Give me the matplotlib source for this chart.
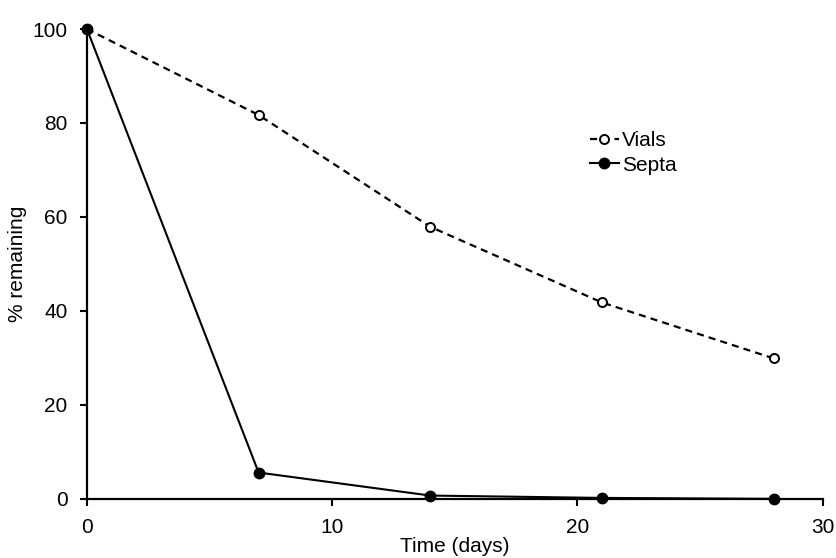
import numpy as np
import matplotlib
matplotlib.use("Agg")
import matplotlib.pyplot as plt

plt.rcParams['font.family'] = ['Liberation Sans', 'DejaVu Sans']

days = [0, 7, 14, 21, 28]
vials = [100, 81.7, 57.9, 41.8, 29.9]
septa = [100, 5.6, 0.7, 0.2, 0.0]

fig = plt.figure(figsize=(8.36, 5.58), dpi=100)
ax = fig.add_axes([0.104, 0.106, 0.88, 0.842])

ax.plot(days, vials, color='black', linewidth=1.6, linestyle=(0, (3.2, 2.3)),
        marker='o', markersize=6.5, markerfacecolor='white', markeredgecolor='black',
        markeredgewidth=1.4, label='Vials', clip_on=False, zorder=3)
ax.plot(days, septa, color='black', linewidth=1.5,
        marker='o', markersize=7.5, markerfacecolor='black', markeredgecolor='black',
        label='Septa', clip_on=False, zorder=4)

ax.set_xlim(0, 30)
ax.set_ylim(0, 100)
ax.set_xticks([0, 10, 20, 30])
ax.set_yticks([0, 20, 40, 60, 80, 100])

for side in ['top', 'right']:
    ax.spines[side].set_visible(False)
for side in ['left', 'bottom']:
    ax.spines[side].set_linewidth(1.6)
ax.tick_params(direction='out', length=5, width=1.5, labelsize=15, pad=9)

ax.set_xlabel('Time (days)', fontsize=15, labelpad=0)
ax.set_ylabel('% remaining', fontsize=15, labelpad=4)

ax.legend(loc='upper left', bbox_to_anchor=(0.672, 0.80), frameon=False,
          fontsize=15, handlelength=1.4, handletextpad=0.15, labelspacing=0.25,
          borderaxespad=0)

plt.savefig('out.png', dpi=100)
